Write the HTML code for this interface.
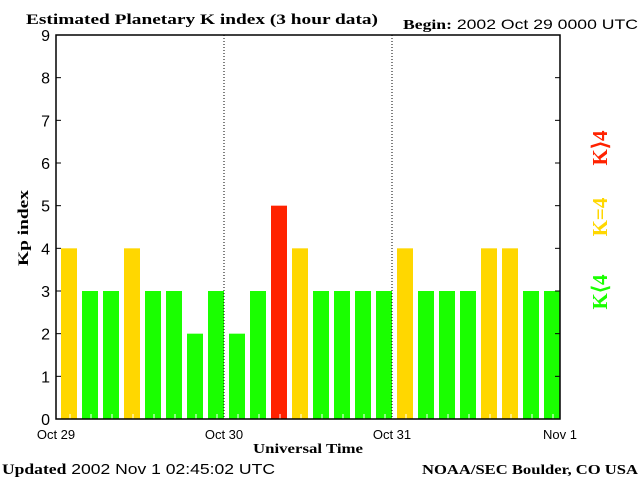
<!DOCTYPE html>
<html><head><meta charset="utf-8"><style>
body{margin:0;background:#fff;}
svg{display:block;}
text{font-family:"Liberation Sans",sans-serif;}
.s{font-family:"Liberation Serif",serif;font-weight:bold;}
</style></head><body>
<svg width="640" height="480">
<text class="s" x="26" y="24" font-size="15" textLength="352" lengthAdjust="spacingAndGlyphs">Estimated Planetary K index (3 hour data)</text>
<text x="403" y="29" font-size="14" textLength="235" lengthAdjust="spacingAndGlyphs"><tspan class="s">Begin:</tspan> 2002 Oct 29 0000 UTC</text>
<g id="plot"></g>
<text class="s" transform="translate(28,228) rotate(-90)" text-anchor="middle" font-size="15" textLength="76" lengthAdjust="spacingAndGlyphs">Kp index</text>
<text class="s" x="253" y="453" font-size="14" textLength="110" lengthAdjust="spacingAndGlyphs">Universal Time</text>
<text x="2" y="474" font-size="15" textLength="273" lengthAdjust="spacingAndGlyphs"><tspan class="s">Updated</tspan> 2002 Nov  1 02:45:02 UTC</text>
<text class="s" x="422" y="474" font-size="14" textLength="216" lengthAdjust="spacingAndGlyphs">NOAA/SEC Boulder, CO USA</text>
<text class="s" transform="translate(607,148) rotate(-90)" text-anchor="middle" font-size="21" fill="#ff2200">K⟩4</text>
<text class="s" transform="translate(607,217) rotate(-90)" text-anchor="middle" font-size="21" fill="#ffd700">K=4</text>
<text class="s" transform="translate(607,292) rotate(-90)" text-anchor="middle" font-size="21" fill="#1aff00">K⟨4</text>
</svg>
<script>
const kpValues=[4,3,3,4,3,3,2,3,2,3,5,4,3,3,3,3,4,3,3,3,4,4,3,3];
const dayLabels=["Oct 29","Oct 30","Oct 31","Nov 1"];
const yTicks=[0,1,2,3,4,5,6,7,8,9];
const X0=56,X1=560,Y0=419,Y1=35;
const NS="http://www.w3.org/2000/svg";
const g=document.getElementById('plot');
const xs=i=>X0+(X1-X0)*i/kpValues.length;
const ys=v=>Y0-(Y0-Y1)*v/9;
function mk(t,a){const e=document.createElementNS(NS,t);for(const k in a)e.setAttribute(k,a[k]);g.appendChild(e);return e;}
kpValues.forEach((v,i)=>{
 const c=v>4?"#ff2200":v==4?"#ffd700":"#1aff00";
 const r=mk('rect',{x:xs(i)+5,y:ys(v),width:xs(i+1)-xs(i)-5,height:Y0-ys(v),fill:c});
 
 
 const t=mk('line',{x1:xs(i)+14,x2:xs(i)+14,y1:Y0,y2:Y0-5,stroke:"#fff"});
});
for(let d=1;d<dayLabels.length-1;d++){const x=X0+(X1-X0)*d/(dayLabels.length-1);
 const l=mk('line',{x1:x,x2:x,y1:Y1,y2:Y0,stroke:"#000","stroke-dasharray":"1,2"});
 
 }
dayLabels.forEach((s,d)=>{const x=X0+(X1-X0)*d/(dayLabels.length-1);
 const t=mk('text',{x:x,y:439,"text-anchor":"middle","font-size":"13"});t.textContent=s;
 
 });
yTicks.forEach(v=>{const y=ys(v);
 mk('line',{x1:X0,x2:X0+5,y1:y,y2:y,stroke:"#000"});
 mk('line',{x1:X1,x2:X1-5,y1:y,y2:y,stroke:"#000"});
 const t=mk('text',{x:50,y:y+6,"text-anchor":"end","font-size":"16"});t.textContent=v;
 
 });
const f=mk('rect',{x:X0,y:Y1,width:X1-X0,height:Y0-Y1,fill:"none",stroke:"#000","stroke-width":1.5});


</script>
</body></html>
